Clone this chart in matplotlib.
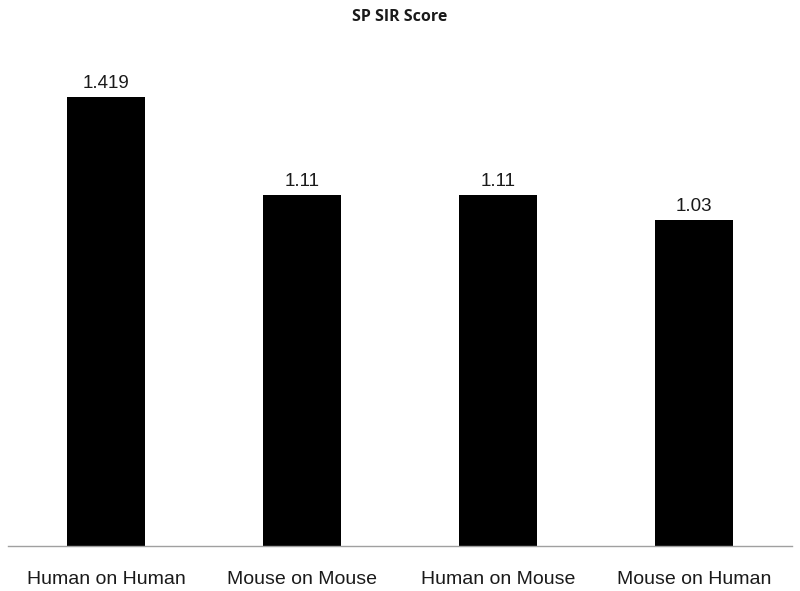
import numpy as np
import matplotlib.pyplot as plt

# Data
categories = ["Human on Human", "Mouse on Mouse", "Human on Mouse", "Mouse on Human"]
scores = [1.419, 1.11, 1.11, 1.03]
score_labels = ["1.419", "1.11", "1.11", "1.03"]

fig = plt.figure(figsize=(8, 5.91), dpi=100)
ax = fig.add_axes([0.01, 0.0761, 0.98, 0.856])

x = np.arange(len(categories))
bars = ax.bar(x, scores, width=0.40, color="black")

for bar, lab in zip(bars, score_labels):
    ax.annotate(lab, (bar.get_x() + bar.get_width() / 2, bar.get_height()),
                xytext=(0, 4), textcoords="offset points",
                ha="center", va="bottom", fontsize=13.5,
                family="Liberation Sans", color="#1a1a1a")

ax.set_xlim(-0.5, 3.5)
ax.set_ylim(0, 1.6)
ax.set_yticks([])
ax.set_xticks(x)
ax.set_xticklabels(categories, fontsize=14, family="Liberation Sans", color="#1a1a1a")
ax.tick_params(axis="x", length=0, pad=18)

for s in ["top", "right", "left"]:
    ax.spines[s].set_visible(False)
ax.spines["bottom"].set_color("#a0a0a0")
ax.spines["bottom"].set_linewidth(1)

fig.text(0.5, 1 - 17 / 591, "SP SIR Score", ha="center", va="center",
         fontsize=11.5, fontweight="bold", family="Open Sans", color="#1a1a1a")

fig.savefig("out.png", dpi=100)
